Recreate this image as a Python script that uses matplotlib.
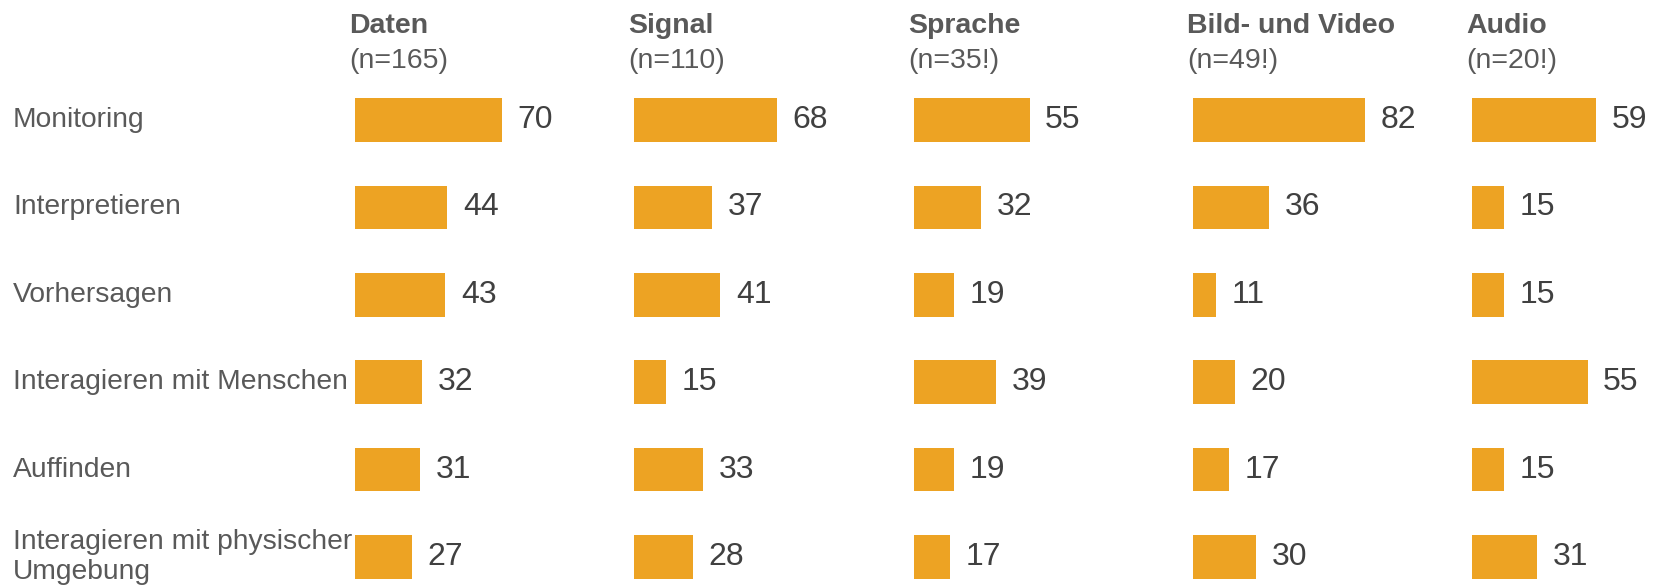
import matplotlib
matplotlib.use("Agg")
import matplotlib.pyplot as plt
import matplotlib.transforms as mtransforms

plt.rcParams["font.family"] = ["Liberation Sans", "DejaVu Sans"]

categories = ["Monitoring", "Interpretieren", "Vorhersagen",
              "Interagieren mit Menschen", "Auffinden",
              "Interagieren mit physischer\nUmgebung"]
groups = ["Daten", "Signal", "Sprache", "Bild- und Video", "Audio"]
group_n = ["(n=165)", "(n=110)", "(n=35!)", "(n=49!)", "(n=20!)"]
daten = [70, 44, 43, 32, 31, 27]
signal = [68, 37, 41, 15, 33, 28]
sprache = [55, 32, 19, 39, 19, 17]
bild_video = [82, 36, 11, 20, 17, 30]
audio = [59, 15, 15, 55, 15, 31]
series = [daten, signal, sprache, bild_video, audio]

BAR = "#EDA323"
LABEL_C = "#595959"
VALUE_C = "#404040"

W, H = 1653, 585
fig = plt.figure(figsize=(W / 100, H / 100), dpi=100)

lefts = [355, 634, 914, 1193, 1472]
panel_w = 279
px_per_unit = 2.1
row_px = 87.4
first_row = 120

ytop = -first_row / row_px
ybot = len(categories) - 1 + (H - (first_row + row_px * 5)) / row_px

for i, (name, n, vals) in enumerate(zip(groups, group_n, series)):
    ax = fig.add_axes([lefts[i] / W, 0, panel_w / W, 1])
    ax.set_xlim(0, panel_w / px_per_unit)
    ax.set_ylim(ybot, ytop)
    ax.axis("off")
    ypos = range(len(vals))
    ax.barh(ypos, vals, height=0.5, color=BAR, edgecolor="none")
    for y, v in zip(ypos, vals):
        ax.text(v + 7.5, y, str(v), ha="left", va="center",
                fontsize=23, color=VALUE_C)
    tr = mtransforms.blended_transform_factory(ax.transAxes, ax.transData)
    ax.text(-0.02, -1.07, name, transform=tr, ha="left", va="center",
            fontsize=20.5, fontweight="bold", color=LABEL_C)
    ax.text(-0.02, -0.67, n, transform=tr, ha="left", va="center",
            fontsize=20.5, color=LABEL_C)
    if i == 0:
        trl = mtransforms.blended_transform_factory(fig.transFigure, ax.transData)
        for y, c in zip(ypos, categories):
            ax.text(13 / W, y, c, transform=trl, ha="left", va="center",
                    fontsize=20.3, color=LABEL_C, linespacing=1.2)

fig.savefig("out.png", dpi=100, facecolor="white")
